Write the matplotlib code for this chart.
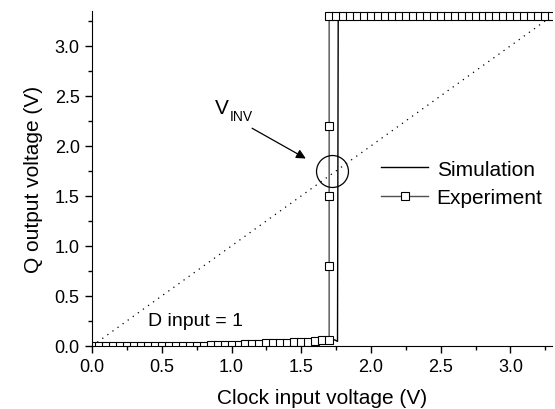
import numpy as np
import matplotlib.pyplot as plt
from matplotlib.ticker import MultipleLocator

plt.rcParams['font.family'] = ['Liberation Sans', 'DejaVu Sans']

# Experiment: clock input sweep, Q output
exp_x = [0.0, 0.05, 0.1, 0.15, 0.2, 0.25, 0.3, 0.35, 0.4, 0.45, 0.5, 0.55, 0.6, 0.65,
         0.7, 0.75, 0.8, 0.85, 0.9, 0.95, 1.0, 1.05, 1.1, 1.15, 1.2, 1.25, 1.3, 1.35,
         1.4, 1.45, 1.5, 1.55, 1.6, 1.65, 1.7, 1.7, 1.7, 1.7, 1.7,
         1.75, 1.8, 1.85, 1.9, 1.95, 2.0, 2.05, 2.1, 2.15, 2.2, 2.25, 2.3, 2.35, 2.4,
         2.45, 2.5, 2.55, 2.6, 2.65, 2.7, 2.75, 2.8, 2.85, 2.9, 2.95, 3.0, 3.05, 3.1,
         3.15, 3.2, 3.25, 3.3]
exp_y = [0.0, 0.0, 0.0, 0.0, 0.0, 0.0, 0.0, 0.0, 0.0, 0.0, 0.0, 0.0, 0.0, 0.0,
         0.0, 0.0, 0.002, 0.004, 0.005, 0.007, 0.009, 0.012, 0.015, 0.018, 0.021, 0.024, 0.027, 0.03,
         0.033, 0.036, 0.04, 0.043, 0.047, 0.055, 0.06, 0.8, 1.5, 2.2, 3.3,
         3.3, 3.3, 3.3, 3.3, 3.3, 3.3, 3.3, 3.3, 3.3, 3.3, 3.3, 3.3, 3.3, 3.3,
         3.3, 3.3, 3.3, 3.3, 3.3, 3.3, 3.3, 3.3, 3.3, 3.3, 3.3, 3.3, 3.3, 3.3,
         3.3, 3.3, 3.3, 3.3]

# Simulation
sim_x = [0.0, 0.5, 1.0, 1.3, 1.5, 1.6, 1.7, 1.74, 1.76, 1.765, 1.8, 3.3]
sim_y = [0.0, 0.004, 0.012, 0.02, 0.03, 0.038, 0.045, 0.06, 0.045, 3.3, 3.3, 3.3]

# reference line Vout = Vin
ref_x = [0.0, 3.3]
ref_y = [0.0, 3.3]

fig = plt.figure(figsize=(5.55, 4.10), dpi=100)
ax = fig.add_axes([0.166, 0.154, 0.829, 0.817])

ax.plot(ref_x, ref_y, color='black', lw=0.9, linestyle=(0, (1, 4)))
ax.plot(sim_x, sim_y, color='black', lw=1.0, label='Simulation')
ax.plot(exp_x, exp_y, color='#505050', lw=1.0, marker='s', markersize=5.2,
        markerfacecolor='white', markeredgecolor='black', markeredgewidth=0.8,
        label='Experiment')

# circle marking the switching point
ax.plot([1.72], [1.75], marker='o', markersize=23, markerfacecolor='none',
        markeredgecolor='black', markeredgewidth=0.9)
ax.annotate('', xy=(1.55, 1.86), xytext=(1.13, 2.19),
            arrowprops=dict(arrowstyle='-|>', color='black', lw=0.9,
                            mutation_scale=14))
ax.text(0.88, 2.33, 'V', fontsize=15)
ax.text(0.985, 2.26, 'INV', fontsize=10)
ax.text(0.40, 0.25, 'D input = 1', fontsize=14, va='center')

ax.set_xlim(0, 3.3)
ax.set_ylim(0, 3.35)
ax.xaxis.set_major_locator(MultipleLocator(0.5))
ax.xaxis.set_minor_locator(MultipleLocator(0.25))
ax.yaxis.set_major_locator(MultipleLocator(0.5))
ax.yaxis.set_minor_locator(MultipleLocator(0.25))
ax.tick_params(which='major', direction='out', length=5, width=1, labelsize=13, pad=4)
ax.tick_params(which='minor', direction='out', length=3, width=1)
ax.spines['top'].set_visible(False)
ax.spines['right'].set_visible(False)

ax.set_xlabel('Clock input voltage (V)', fontsize=15, labelpad=9)
ax.set_ylabel('Q output voltage (V)', fontsize=15, labelpad=8)

ax.legend(loc='center left', bbox_to_anchor=(0.588, 0.485), frameon=False,
          fontsize=15, handlelength=2.25, handletextpad=0.4, labelspacing=0.45)

plt.savefig('out.png', dpi=100)
